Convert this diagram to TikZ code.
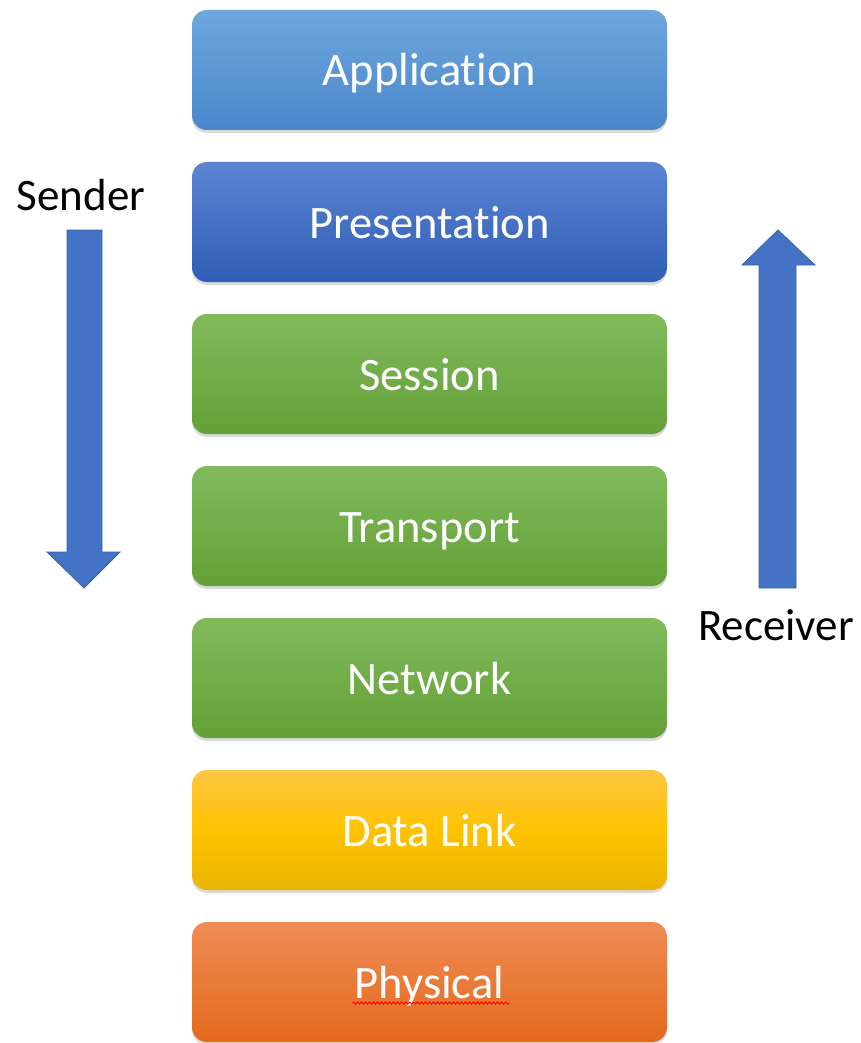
\documentclass[tikz,border=0pt]{standalone}
\usepackage{fontspec}
\setmainfont{Carlito}[Ligatures=NoCommon]
\usetikzlibrary{shadows,decorations.pathmorphing}
\definecolor{appT}{HTML}{6EA8DE}
\definecolor{appB}{HTML}{4A86CA}
\definecolor{preT}{HTML}{5C84D2}
\definecolor{preB}{HTML}{2F5EB6}
\definecolor{grnT}{HTML}{80BA5C}
\definecolor{grnB}{HTML}{64A037}
\definecolor{dlT}{HTML}{FFC645}
\definecolor{dlM}{HTML}{FFC200}
\definecolor{dlB}{HTML}{EAB500}
\definecolor{phT}{HTML}{F08C55}
\definecolor{phB}{HTML}{E3691C}
\definecolor{arrowfill}{HTML}{4472C4}
\definecolor{arrowline}{HTML}{3A64AE}
\tikzset{
  layer/.style={rounded corners=15pt, minimum width=475pt, minimum height=120pt,
    text=white, font=\fontsize{46.5}{50}\selectfont, inner sep=0pt,
    text height=40pt, text depth=8pt,
    drop shadow={opacity=0.3, shadow xshift=0pt, shadow yshift=-3pt}},
  lbl/.style={text=black, font=\fontsize{45}{48}\selectfont, inner sep=0pt},
  bigarrow/.style={fill=arrowfill, draw=arrowline, line width=0.8pt, line join=miter},
  squiggle/.style={red, line width=0.9pt, decorate, decoration={snake, amplitude=1.1pt, segment length=4pt}}
}
\begin{document}
\begin{tikzpicture}[x=1pt,y=-1pt]
\useasboundingbox (0,0) rectangle (861,1043);
\node[layer, top color=appT, bottom color=appB] (app) at (429.5,70) {Application};
\node[layer, top color=preT, bottom color=preB] (pre) at (429.5,222) {Presentation};
\node[layer, top color=grnT, bottom color=grnB] (ses) at (429.5,374) {Session};
\node[layer, top color=grnT, bottom color=grnB] (tra) at (429.5,526) {Transport};
\node[layer, top color=grnT, bottom color=grnB] (net) at (429.5,678) {Network};
\node[layer, top color=dlT, bottom color=dlB, middle color=dlM] (dl) at (429.5,830) {Data Link};
\node[layer, top color=phT, bottom color=phB] (phy) at (429.5,982) {Physical};
\path (phy.center) ++(-77,21) coordinate (sqL) ++(157,0) coordinate (sqR);
\draw[squiggle] (sqL) -- (sqR);
% sender arrow
\draw[bigarrow] (67,230) -- (102,230) -- (102,552) -- (120,552) -- (84,588) -- (47,552) -- (67,552) -- cycle;
\node[lbl] (sender) at (81,195) {Sender};
% receiver arrow
\draw[bigarrow] (759,588) -- (796,588) -- (796,265) -- (815,265) -- (778,230) -- (742,265) -- (759,265) -- cycle;
\node[lbl] (receiver) at (776,625) {Receiver};
\end{tikzpicture}
\end{document}
